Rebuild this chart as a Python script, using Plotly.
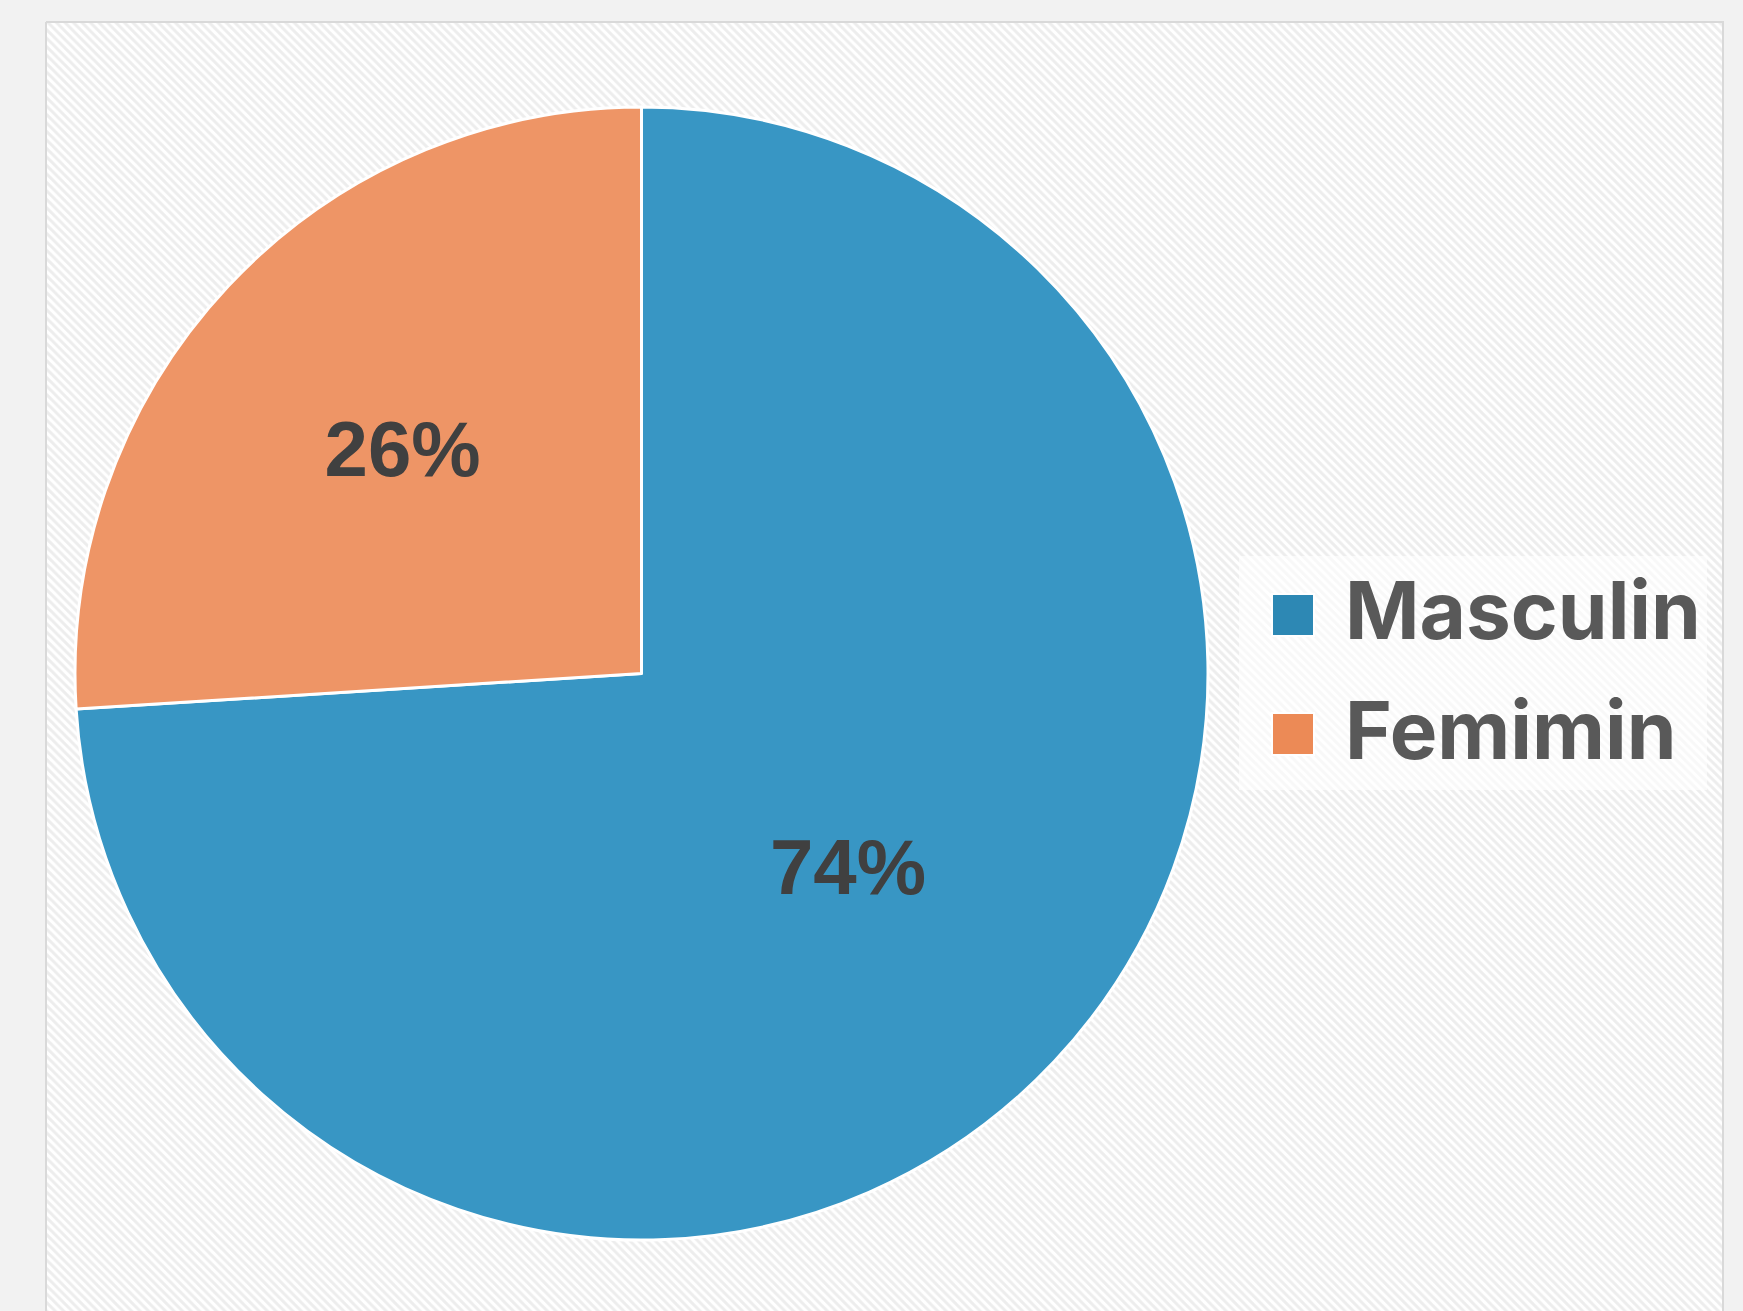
import plotly.graph_objects as go

labels = ["Masculin", "Femimin"]
values = [74, 26]
slice_colors = ["#3896c4", "#ee9566"]
swatch_colors = ["#2d88b4", "#ec8a56"]

W, H = 1743, 1311

fig = go.Figure()

# hatched chart-area background with border
fig.add_trace(go.Scatter(
    x=[46, 1723, 1723, 46, 46], y=[22, 22, 1330, 1330, 22],
    mode="lines", fill="toself",
    fillcolor="white",
    fillpattern=dict(shape="\\", fgcolor="#dcdcdc", bgcolor="#ffffff", size=6, solidity=0.5),
    line=dict(color="#d9d9d9", width=2),
    hoverinfo="skip", showlegend=False,
))

fig.add_trace(go.Pie(
    labels=labels, values=values,
    sort=False, direction="clockwise", rotation=0,
    marker=dict(colors=slice_colors, line=dict(color="white", width=3)),
    texttemplate="%{percent:.0%}",
    textposition="inside", insidetextorientation="horizontal",
    textfont=dict(family="Liberation Sans", size=78, color="#404040", weight="bold"),
    domain=dict(x=[75 / W, 1208 / W], y=[1 - 1240 / H, 1 - 107 / H]),
    showlegend=False, hoverinfo="label+percent",
))

# custom legend
fig.add_shape(type="rect", xref="x", yref="y", x0=1239, x1=1707, y0=556, y1=790,
              fillcolor="rgba(255,255,255,0.6)", line=dict(width=0), layer="above")
swatch_y = [615, 734]
text_y = [609, 729]
for lab, col, yc, ty in zip(labels, swatch_colors, swatch_y, text_y):
    fig.add_shape(type="rect", xref="x", yref="y", x0=1272, x1=1314, y0=yc - 21, y1=yc + 21,
                  fillcolor=col, line=dict(color="white", width=2), layer="above")
    fig.add_annotation(x=1343, y=ty, xref="x", yref="y", text=lab, showarrow=False,
                       xanchor="left", yanchor="middle",
                       font=dict(family="Inter", size=80, color="#595959", weight="bold"))

fig.update_layout(
    width=W, height=H,
    margin=dict(l=0, r=0, t=0, b=0),
    paper_bgcolor="#f2f2f2", plot_bgcolor="#f2f2f2",
    xaxis=dict(range=[0, W], visible=False, domain=[0, 1]),
    yaxis=dict(range=[H, 0], visible=False, domain=[0, 1]),
    showlegend=False,
)

fig.write_html("out.html", config={"displayModeBar": False},
               post_script="document.body.style.margin='0';")
